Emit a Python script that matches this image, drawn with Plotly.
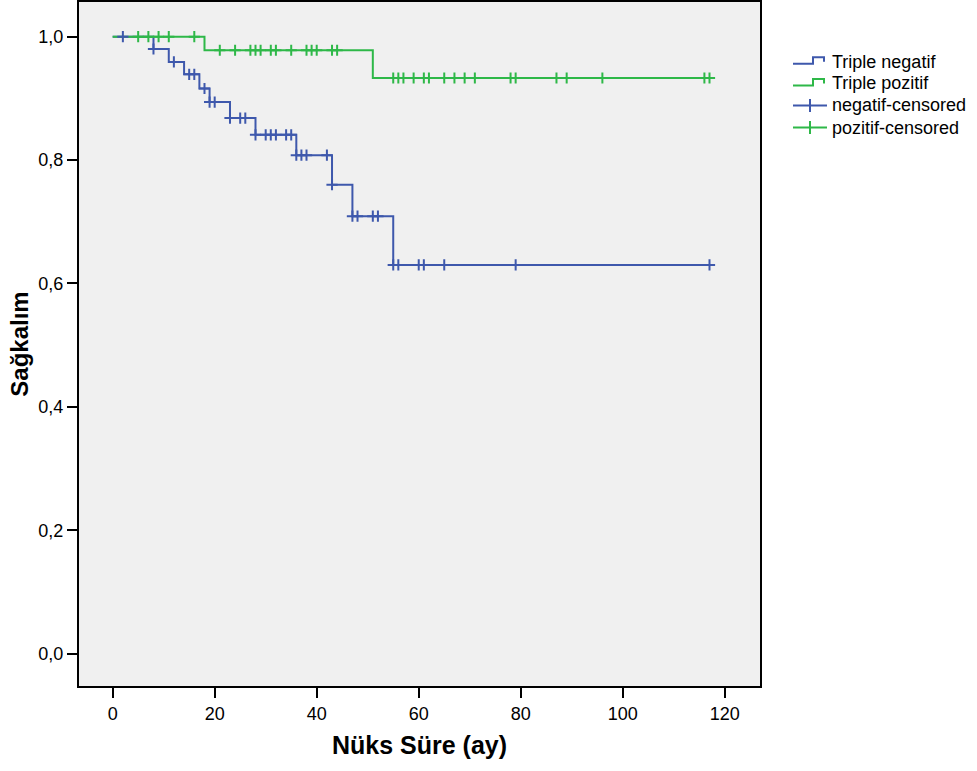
import plotly.graph_objects as go

# ---- data ----
neg_times = [0, 8, 11, 14, 17, 19, 23, 28, 36, 43, 47, 55, 117]
neg_surv = [1.0, 0.980, 0.959, 0.939, 0.916, 0.894, 0.868, 0.841, 0.808, 0.760, 0.709, 0.630, 0.630]
neg_cens_times = [2, 8, 12, 15, 16, 18, 19, 20, 23, 25, 26, 28, 30, 31, 32, 34, 35,
                  36, 37, 38, 42, 43, 47, 48, 51, 52, 55, 56, 60, 61, 65, 79, 117]

pos_times = [0, 18, 51, 117]
pos_surv = [1.0, 0.978, 0.933, 0.933]
pos_cens_times = [5, 7, 9, 11, 16, 21, 24, 27, 28, 29, 31, 32, 35, 38, 39, 40, 43, 44,
                  55, 56, 57, 59, 61, 62, 65, 67, 69, 71, 78, 79, 87, 89, 96, 116, 117]

x_ticks = [0, 20, 40, 60, 80, 100, 120]
y_ticks = [0.0, 0.2, 0.4, 0.6, 0.8, 1.0]
y_tick_text = ["0,0", "0,2", "0,4", "0,6", "0,8", "1,0"]

legend_labels = ["Triple negatif", "Triple pozitif", "negatif-censored", "pozitif-censored"]

BLUE = "#3E58AC"
GREEN = "#2EB848"
FONT = "Liberation Sans, Arial, sans-serif"


def surv_at(times, surv, t):
    s = surv[0]
    for ti, si in zip(times, surv):
        if ti <= t:
            s = si
    return s


neg_cens_surv = [surv_at(neg_times, neg_surv, t) for t in neg_cens_times]
pos_cens_surv = [surv_at(pos_times, pos_surv, t) for t in pos_cens_times]

fig = go.Figure()
fig.add_trace(go.Scatter(x=neg_times, y=neg_surv, mode="lines", line=dict(color=BLUE, width=2, shape="hv"),
                         name=legend_labels[0], showlegend=False))
fig.add_trace(go.Scatter(x=pos_times, y=pos_surv, mode="lines", line=dict(color=GREEN, width=2, shape="hv"),
                         name=legend_labels[1], showlegend=False))
fig.add_trace(go.Scatter(x=neg_cens_times, y=neg_cens_surv, mode="markers",
                         marker=dict(symbol="cross-thin", size=8, line=dict(color=BLUE, width=2)),
                         name=legend_labels[2], showlegend=False))
fig.add_trace(go.Scatter(x=pos_cens_times, y=pos_cens_surv, mode="markers",
                         marker=dict(symbol="cross-thin", size=8, line=dict(color=GREEN, width=2)),
                         name=legend_labels[3], showlegend=False))

# ---- layout geometry (pixels) ----
W, H = 977, 771
L, R, T, B = 79, 760, 2, 686


def px(x):
    return (x - L) / (R - L)


def py(y):
    return (B - y) / (B - T)


# ---- custom legend (step icons for curves, + for censored) ----
rows_y = [61.7, 83.5, 105.5, 127.5]
colors = [BLUE, GREEN, BLUE, GREEN]
shapes = []
annotations = []
for i, (lab, yc, col) in enumerate(zip(legend_labels, rows_y, colors)):
    if i < 2:
        pts = [(793, yc + 2), (813, yc + 2), (813, yc - 4.5), (824, yc - 4.5), (824, yc)]
        path = "M " + " L ".join(f"{px(a):.5f},{py(b):.5f}" for a, b in pts)
        shapes.append(dict(type="path", xref="paper", yref="paper", path=path,
                           line=dict(color=col, width=2)))
    else:
        shapes.append(dict(type="line", xref="paper", yref="paper", x0=px(793), x1=px(827),
                           y0=py(yc), y1=py(yc), line=dict(color=col, width=2)))
        shapes.append(dict(type="line", xref="paper", yref="paper", x0=px(810), x1=px(810),
                           y0=py(yc - 6.5), y1=py(yc + 6.5), line=dict(color=col, width=2)))
    annotations.append(dict(text=lab, xref="paper", yref="paper", x=px(830), y=py(yc),
                            xanchor="left", yanchor="middle", showarrow=False,
                            font=dict(family=FONT, size=18, color="#000000")))

fig.update_layout(
    width=W, height=H,
    margin=dict(l=L, r=W - R, t=T, b=H - B, autoexpand=False),
    paper_bgcolor="#FFFFFF",
    plot_bgcolor="#F0F0F0",
    font=dict(family=FONT, size=18, color="#000000"),
    showlegend=False,
    shapes=shapes,
    annotations=annotations,
    xaxis=dict(
        range=[-6.6, 126.9], tickvals=x_ticks, ticks="outside", ticklen=10, tickwidth=2,
        tickcolor="#000000", showline=True, linecolor="#000000", linewidth=2, mirror=True,
        showgrid=False, zeroline=False, tickfont=dict(size=18),
        title=dict(text="<b>Nüks Süre (ay)</b>", font=dict(size=25), standoff=14),
    ),
    yaxis=dict(
        range=[-0.0524, 1.0562], tickvals=y_ticks, ticktext=y_tick_text, ticks="outside",
        ticklen=10, tickwidth=2, tickcolor="#000000", showline=True, linecolor="#000000",
        linewidth=2, mirror=True, showgrid=False, zeroline=False, tickfont=dict(size=18),
        title=dict(text="<b>Sağkalım</b>", font=dict(size=24), standoff=3),
    ),
)

fig.write_html("out.html", config={"displayModeBar": False},
               post_script="document.body.style.margin='0';")
